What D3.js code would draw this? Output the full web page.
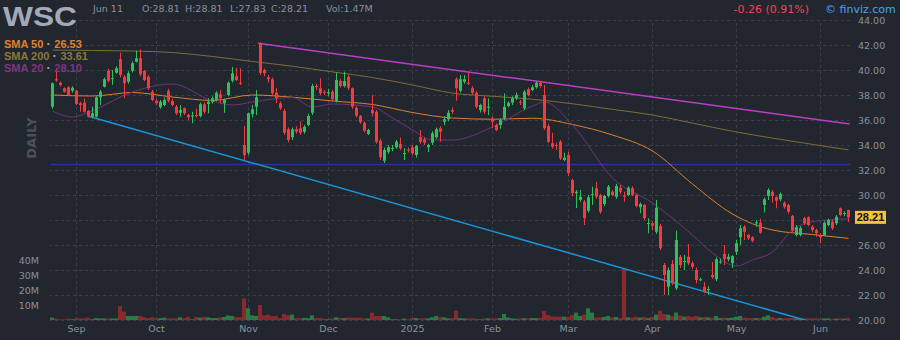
<!DOCTYPE html>
<html><head><meta charset="utf-8">
<script src="https://cdn.jsdelivr.net/npm/d3@7"></script>
<style>html,body{margin:0;padding:0;background:#22262f;}svg{display:block}</style>
</head><body><svg id="c" width="900" height="340"></svg>
<script>
// ---------------- DATA ----------------
const opens = [37.06,39.26,38.98,38.54,38.62,38.34,38.34,37.34,37.38,36.72,36.26,36.26,37.82,38.66,39.94,39.26,39.78,40.86,39.46,39.06,
39.94,40.66,40.94,39.92,39.46,38.26,37.54,37.02,37.2,38.34,37.52,37.06,36.58,36.94,36.4,36.28,36.4,36.32,37.26,37.28,
37.46,37.6,38.06,37.34,38.0,39.14,39.52,38.98,34.0,33.38,36.48,37.06,42.14,40.0,39.42,39.26,38.18,37.34,36.72,35.26,
34.62,35.26,35.34,35.06,35.6,36.58,38.72,38.54,38.26,38.14,38.26,37.54,39.12,38.72,39.46,38.54,36.98,36.32,35.78,34.88,
36.8,36.66,34.34,32.74,33.46,33.68,33.82,34.08,33.31,33.64,33.82,33.2,34.62,34.46,33.82,34.18,34.62,35.34,35.86,36.06,
36.8,39.26,38.34,39.06,38.98,38.54,38.18,36.8,37.74,37.02,36.14,35.6,35.6,36.14,37.12,37.38,37.74,37.46,36.94,38.46,
38.4,38.62,38.98,38.0,35.52,34.14,34.0,34.26,32.8,33.2,31.2,30.14,29.6,29.46,28.74,30.03,30.54,30.0,29.28,29.92,
30.26,29.86,30.58,29.96,30.0,30.54,30.0,29.02,29.2,27.71,27.74,27.06,27.52,24.4,22.66,24.48,22.54,25.06,24.68,25.06,
24.54,24.0,23.22,22.66,22.43,23.6,23.26,24.64,25.28,24.86,24.54,25.46,26.62,27.46,26.8,26.62,27.76,27.78,29.2,29.92,
30.26,29.82,29.66,29.38,29.2,28.32,26.8,26.8,28.14,28.22,27.46,27.2,26.72,26.8,27.6,27.86,27.74,28.94,28.51,28.81];
const highs = [39.0,40.14,39.06,38.6,38.7,38.7,38.4,37.46,37.7,36.8,37.06,37.9,38.4,39.4,40.1,40.0,40.3,41.38,39.6,39.9,
40.7,41.54,41.66,40.0,39.6,38.4,37.7,37.6,37.8,38.5,37.7,37.2,37.2,37.0,36.5,36.66,36.9,37.4,37.4,37.74,
37.9,38.3,38.4,37.7,39.1,40.24,40.16,40.14,35.52,36.6,37.2,38.4,42.2,40.1,39.6,39.4,38.54,37.5,36.9,35.4,
35.4,35.5,35.9,35.6,36.5,38.9,38.9,39.34,38.4,38.5,38.4,39.78,39.3,39.86,39.6,38.6,37.1,36.4,35.9,35.3,
38.0,36.8,34.5,33.8,34.0,34.0,34.4,34.6,33.74,33.8,34.0,34.0,35.2,34.6,34.1,35.1,35.4,35.5,36.3,36.8,
37.0,39.4,39.6,39.6,39.76,38.7,38.3,37.3,37.9,37.74,36.3,35.7,36.1,38.14,37.5,37.9,38.2,37.6,38.4,38.6,
38.8,39.1,39.14,38.8,35.7,34.98,34.2,34.4,33.38,33.44,31.3,30.4,30.4,29.6,30.0,30.66,31.06,30.1,30.0,30.8,
30.4,30.9,30.8,30.26,30.7,30.7,30.1,29.4,29.3,28.14,27.9,29.6,27.7,24.56,24.2,24.8,27.14,25.2,25.2,26.08,
24.7,24.2,23.4,23.04,22.7,24.64,25.0,24.9,26.0,25.3,25.2,26.4,27.6,27.6,26.9,26.7,28.0,28.1,29.8,30.54,
30.4,29.9,30.2,29.5,29.3,28.4,27.6,27.5,28.26,28.3,27.6,27.3,26.94,27.9,28.1,28.0,28.4,29.0,28.7,28.81];
const lows = [36.9,39.06,38.66,38.2,37.9,38.2,37.2,36.66,36.6,36.2,36.14,36.2,37.2,38.6,39.0,38.8,39.7,39.4,37.74,38.9,
39.8,40.6,39.5,39.1,38.4,37.5,37.2,36.9,37.1,37.4,37.1,36.4,36.26,36.4,36.0,35.74,36.2,36.2,36.5,36.54,
37.3,37.5,37.34,36.58,37.9,39.0,39.1,38.8,32.8,33.2,36.2,36.4,39.6,39.5,39.0,38.0,37.34,36.8,34.8,34.2,
34.4,34.9,34.8,34.9,35.5,36.4,38.4,38.0,38.0,37.9,37.5,37.4,38.6,38.6,38.4,36.9,36.2,35.7,35.0,34.8,
36.3,34.1,32.8,32.56,33.3,33.5,33.7,33.6,32.8,33.4,33.2,33.0,34.1,34.0,33.44,34.0,34.5,34.26,35.6,35.9,
36.5,37.54,38.2,38.9,38.8,38.0,36.9,36.6,36.5,36.4,35.34,35.1,35.3,36.0,37.0,37.2,37.6,37.2,36.8,37.9,
38.3,38.5,38.6,35.2,34.16,33.7,33.6,32.8,32.7,31.5,29.9,28.96,29.46,27.6,28.6,29.2,29.7,28.5,29.1,29.8,
29.9,29.7,30.1,29.46,29.9,29.9,29.0,28.54,28.0,26.94,27.2,26.9,25.6,22.0,22.0,22.8,22.4,24.16,24.0,24.4,
24.1,22.93,23.1,22.14,22.0,23.3,23.1,24.5,24.4,24.7,24.16,25.2,26.0,26.4,26.4,26.2,27.46,26.9,28.6,29.6,
29.4,28.94,29.5,28.9,28.5,27.0,26.7,26.7,27.6,27.5,27.0,26.66,26.14,26.7,27.5,27.2,27.6,28.3,28.3,27.83];
const closes = [38.94,39.16,38.8,38.26,38.0,38.58,37.28,37.2,36.66,36.26,36.54,37.82,38.26,39.26,39.14,39.34,40.14,39.6,38.94,39.74,
40.54,40.94,39.66,39.2,38.54,37.6,37.34,37.46,37.6,37.54,37.2,36.54,36.8,36.54,36.22,36.36,36.32,37.26,36.66,37.46,
37.74,38.18,37.74,37.6,38.98,39.74,39.2,38.94,33.2,36.54,36.86,37.82,39.78,39.74,39.26,38.14,37.74,36.94,34.98,34.4,
35.26,35.06,34.98,35.46,36.32,38.72,38.62,38.14,38.18,38.22,37.66,39.2,38.72,39.12,38.58,37.06,36.34,35.82,35.14,35.2,
36.54,34.26,33.02,33.6,33.82,33.76,34.26,33.74,33.36,33.56,33.34,33.92,34.26,34.18,34.0,34.94,35.26,35.06,36.06,36.58,
36.66,38.54,39.26,39.26,38.94,38.18,37.06,37.2,36.66,37.06,35.86,35.2,36.0,37.06,37.38,37.74,38.0,37.38,38.26,38.0,
38.62,38.98,38.72,35.34,34.26,33.86,33.94,32.94,32.98,31.74,30.14,30.26,29.86,28.14,29.82,30.08,29.86,28.66,29.92,30.66,
30.0,30.72,30.26,29.86,30.58,30.0,29.12,29.28,28.14,27.76,27.54,28.98,25.74,23.6,24.0,22.94,26.4,24.4,24.72,24.54,
24.26,23.2,23.26,22.26,22.48,23.42,24.86,24.68,24.86,25.06,25.12,26.14,27.34,27.06,26.54,26.34,27.81,26.98,29.66,30.4,
29.92,29.54,30.08,29.06,28.66,27.14,27.42,27.36,27.74,27.6,27.2,26.94,26.62,27.78,28.0,27.34,28.26,28.4,28.56,28.21];
const volumes = [1.6,0.9,0.5,0.5,0.9,0.5,1.1,1.1,1.1,1.6,0.5,1.3,1.1,1.1,1.1,1.1,1.1,9.3,5.6,2.7,
2.7,2.7,2.7,1.8,1.3,1.8,1.1,1.2,1.6,1.1,1.1,1.1,1.8,1.1,2.0,0.5,2.0,1.6,2.0,1.8,
1.3,1.3,1.6,2.0,3.1,2.7,1.8,1.8,14.4,7.8,3.1,2.7,10.0,3.1,3.6,2.7,2.7,1.3,4.0,3.1,
3.6,1.3,1.3,1.3,1.3,3.1,1.3,1.3,0.9,0.5,1.1,1.8,1.3,1.3,1.6,1.6,1.6,1.6,1.1,1.1,
4.9,2.7,2.7,2.7,1.8,0.5,0.5,0.5,0.9,0.5,1.3,1.3,1.1,1.1,1.1,1.8,2.7,1.8,1.8,1.1,
1.3,6.2,1.3,1.1,1.1,1.1,0.9,0.5,1.1,1.1,0.9,1.1,1.3,4.0,1.6,1.1,0.9,1.1,1.3,1.1,
1.3,1.3,1.3,6.0,3.3,2.4,2.2,2.2,2.2,2.0,3.3,4.9,2.7,3.6,7.8,4.9,1.6,1.8,2.0,2.7,
1.8,2.0,1.3,34.4,1.8,1.6,2.2,1.6,2.2,1.3,2.0,3.6,6.2,4.0,3.6,2.7,5.0,3.1,2.2,2.7,
2.2,2.7,1.8,2.0,1.8,1.6,2.7,1.3,1.6,1.3,1.6,2.2,2.7,1.6,1.3,1.3,1.3,1.3,2.2,3.1,
2.0,1.3,1.3,1.1,1.3,1.3,1.1,1.1,1.1,1.1,1.1,1.1,0.9,1.1,1.1,0.9,0.9,1.1,0.9,1.47];

const monthIdx = [6,26,49,69,90,110,129,150,171,192];
const monthLabels = ["Sep","Oct","Nov","Dec","2025","Feb","Mar","Apr","May","Jun"];
const priceTicks = [20,22,24,26,28,30,32,34,36,38,40,42,44];
const volTicks = [10,20,30,40];

const sma200Idx = [0,10,20,30,40,50,60,70,80,90,100,110,120,130,140,150,160,170,180,190,199];
const sma200Val = [41.6,41.56,41.52,41.4,41.08,40.68,40.3,39.85,39.4,38.8,38.15,37.9,37.66,37.3,36.85,36.4,35.75,35.1,34.55,34.05,33.61];
const sma50Idx = [0,10,20,30,40,50,60,70,80,90,100,110,120,130,140,150,160,170,180,190,199];
const sma50Val = [38.0,37.92,38.2,37.84,37.56,38.0,37.82,37.52,37.24,36.6,36.16,36.06,36.14,35.64,34.8,33.52,30.88,28.48,27.2,26.84,26.53];
const sma20Idx = [0,5,10,20,30,40,45,50,60,65,70,80,85,90,95,100,110,120,123,130,140,150,160,165,171,175,180,185,190,199];
const sma20Val = [36.72,36.24,36.76,38.24,38.88,37.52,37.2,37.44,37.8,37.04,37.28,37.04,36.16,35.2,34.4,34.4,35.44,37.12,37.44,35.6,31.36,29.36,26.8,25.36,24.32,24.8,25.44,27.2,27.86,28.10];

const resistIdx = [51.4,199.3];
const resistVal = [42.14,35.68];
const supportIdx = [9,199];
const supportVal = [36.3,19.0];
const levelVal = 32.45;

const ticker = "WSC";
const headerDate = "Jun 11";
const lastO = 28.81, lastH = 28.81, lastL = 27.83, lastC = 28.21, lastVol = "1.47M";
const change = "-0.26 (0.91%)";

// ---------------- DRAW ----------------
const F1 = "DejaVu Sans, Verdana, sans-serif";
const F2 = "Liberation Sans, Arial, sans-serif";
const BG = "#22262f", GRID = "#3a3e4a", AXT = "#8c909b";
const UP = "#2fc25a", DN = "#f23a3f", VUP = "#2a7a43", VDN = "#88292e";
const C50 = "#e0802d", C200 = "#7f6c36", C20 = "#70337a";

const N = closes.length;
const svg = d3.select("#c");
svg.append("rect").attr("width",900).attr("height",340).attr("fill",BG);

const x = d3.scaleBand().domain(d3.range(N)).range([50.5, 850.5]).padding(0);
const cx = i => x(i) + x.bandwidth()/2;
const xl = d3.scaleLinear().domain([0, N-1]).range([cx(0), cx(N-1)]);
const y = d3.scaleLinear().domain([20,44]).range([320,20]);
const yv = d3.scaleLinear().domain([0,40]).range([320,260]);

svg.append("defs").append("clipPath").attr("id","plot")
  .append("rect").attr("x",50).attr("y",20).attr("width",800).attr("height",300);

// grid + price axis (label hidden under the last-price tag, as in the reference)
const tagHidden = d => Math.abs(y(d) - y(lastC)) < 9;
const gY = svg.append("g").attr("transform","translate(850,0)")
  .call(d3.axisRight(y).tickValues(priceTicks).tickFormat(d => tagHidden(d) ? "" : d3.format(".2f")(d))
    .tickSizeInner(-800).tickSizeOuter(0).tickPadding(8));
gY.select(".domain").remove();
gY.attr("font-family",F1).attr("font-size","9.5px");
gY.selectAll("line").attr("stroke",GRID).attr("stroke-dasharray","3,3");
gY.selectAll("text").attr("fill",AXT);

const gX = svg.append("g").attr("transform","translate(0,320)")
  .call(d3.axisBottom(x).tickValues(monthIdx).tickFormat(d => monthLabels[monthIdx.indexOf(d)])
    .tickSizeInner(-300).tickSizeOuter(0).tickPadding(5));
gX.select(".domain").remove();
gX.attr("font-family",F1).attr("font-size","9.5px");
gX.selectAll("line").attr("stroke",GRID).attr("stroke-dasharray","3,3");
gX.selectAll("text").attr("fill",AXT);

const gV = svg.append("g").attr("transform","translate(42,0)")
  .call(d3.axisLeft(yv).tickValues(volTicks).tickFormat(d => d + "M").tickSize(0).tickPadding(3));
gV.select(".domain").remove();
gV.attr("font-family",F1).attr("font-size","9.5px");
gV.selectAll("text").attr("fill",AXT);

const bars = d3.range(N).map(i => ({i, o:opens[i], h:highs[i], l:lows[i], c:closes[i], v:volumes[i]}));

// volume
svg.append("g").selectAll("rect").data(bars).join("rect")
  .attr("x", d => x(d.i) - 0.5).attr("width", x.bandwidth())
  .attr("y", d => yv(d.v)).attr("height", d => 320 - yv(d.v))
  .attr("fill", d => d.c >= d.o ? VUP : VDN);

// horizontal level
const plot = svg.append("g").attr("clip-path","url(#plot)");
plot.append("line").attr("x1",50).attr("x2",850).attr("y1",y(levelVal)).attr("y2",y(levelVal))
  .attr("stroke","#2c3090").attr("stroke-width",1.5);

// candles
const cg = svg.append("g");
cg.selectAll("line").data(bars).join("line")
  .attr("x1", d => cx(d.i)).attr("x2", d => cx(d.i))
  .attr("y1", d => y(d.h)).attr("y2", d => y(d.l))
  .attr("stroke", d => d.c >= d.o ? UP : DN).attr("stroke-width",1);
cg.selectAll("rect").data(bars).join("rect")
  .attr("x", d => cx(d.i) - 1.5).attr("width", 3)
  .attr("y", d => y(Math.max(d.o,d.c)))
  .attr("height", d => Math.max(1, Math.abs(y(d.o) - y(d.c))))
  .attr("fill", d => d.c >= d.o ? UP : DN);

// SMA lines
const smaLine = d3.line().x(d => xl(d[0])).y(d => y(d[1])).curve(d3.curveMonotoneX);
[[sma200Idx,sma200Val,C200],[sma50Idx,sma50Val,C50],[sma20Idx,sma20Val,C20]].forEach(([ix,vals,col]) => {
  plot.append("path").attr("d", smaLine(ix.map((k,j)=>[k,vals[j]])))
    .attr("fill","none").attr("stroke",col).attr("stroke-width",1);
});

// trend lines
const tl = d3.line().x(d => xl(d[0])).y(d => y(d[1]));
plot.append("path").attr("d", tl(resistIdx.map((k,j)=>[k,resistVal[j]])))
  .attr("fill","none").attr("stroke","#bb3fc6").attr("stroke-width",1.5);
plot.append("path").attr("d", tl(supportIdx.map((k,j)=>[k,supportVal[j]])))
  .attr("fill","none").attr("stroke","#1c93d6").attr("stroke-width",1.5);

// last price tag
const ly = y(lastC);
svg.append("rect").attr("x",855).attr("y",ly-6.5).attr("width",31).attr("height",13).attr("fill","#f4c23f");
svg.append("text").attr("x",870.5).attr("y",ly+4).attr("text-anchor","middle")
  .attr("font-family",F2).attr("font-weight","bold").attr("font-size","11px").attr("fill","#111").text(lastC.toFixed(2));

// header
svg.append("text").attr("x",3).attr("y",25.5).attr("font-family",F2).attr("font-weight","bold")
  .attr("font-size","28px").attr("textLength",74).attr("lengthAdjust","spacingAndGlyphs")
  .attr("fill","#a2a9b9").text(ticker);
const hdr = [[93,headerDate],[142,"O:"+lastO.toFixed(2)],[185,"H:"+lastH.toFixed(2)],[230,"L:"+lastL.toFixed(2)],[271,"C:"+lastC.toFixed(2)],[326,"Vol:"+lastVol]];
hdr.forEach(([hx,t]) => svg.append("text").attr("x",hx).attr("y",12).attr("font-family",F1)
  .attr("font-size","9.5px").attr("fill",AXT).text(t));
svg.append("text").attr("x",809).attr("y",13).attr("text-anchor","end").attr("font-family",F1)
  .attr("font-size","11px").attr("fill","#f0474d").text(change);
svg.append("text").attr("x",825).attr("y",12.5).attr("font-family",F1)
  .attr("font-size","11px").attr("fill","#4aa2ee").text("© finviz.com");

// DAILY
svg.append("text").attr("transform","translate(36,138) rotate(-90)").attr("text-anchor","middle")
  .attr("font-family",F1).attr("font-weight","bold").attr("font-size","13px").attr("fill","#4b505c").text("DAILY");

// legend
const leg = [["SMA 50", sma50Val[sma50Val.length-1], C50, 48],
             ["SMA 200", sma200Val[sma200Val.length-1], "#8c7739", 60],
             ["SMA 20", sma20Val[sma20Val.length-1], "#7e3680", 72]];
leg.forEach(([name,val,col,by]) => {
  const t = svg.append("text").attr("x",4).attr("y",by).attr("font-family",F2).attr("font-weight","bold")
    .attr("font-size","11px").attr("fill",col).text(name);
  const w = t.node().getComputedTextLength();
  svg.append("rect").attr("x",4+w+4).attr("y",by-5).attr("width",2).attr("height",2).attr("fill","#9a9ea8");
  svg.append("text").attr("x",4+w+11).attr("y",by).attr("font-family",F2).attr("font-weight","bold")
    .attr("font-size","11px").attr("fill",col).text(val.toFixed(2));
});
</script></body></html>
